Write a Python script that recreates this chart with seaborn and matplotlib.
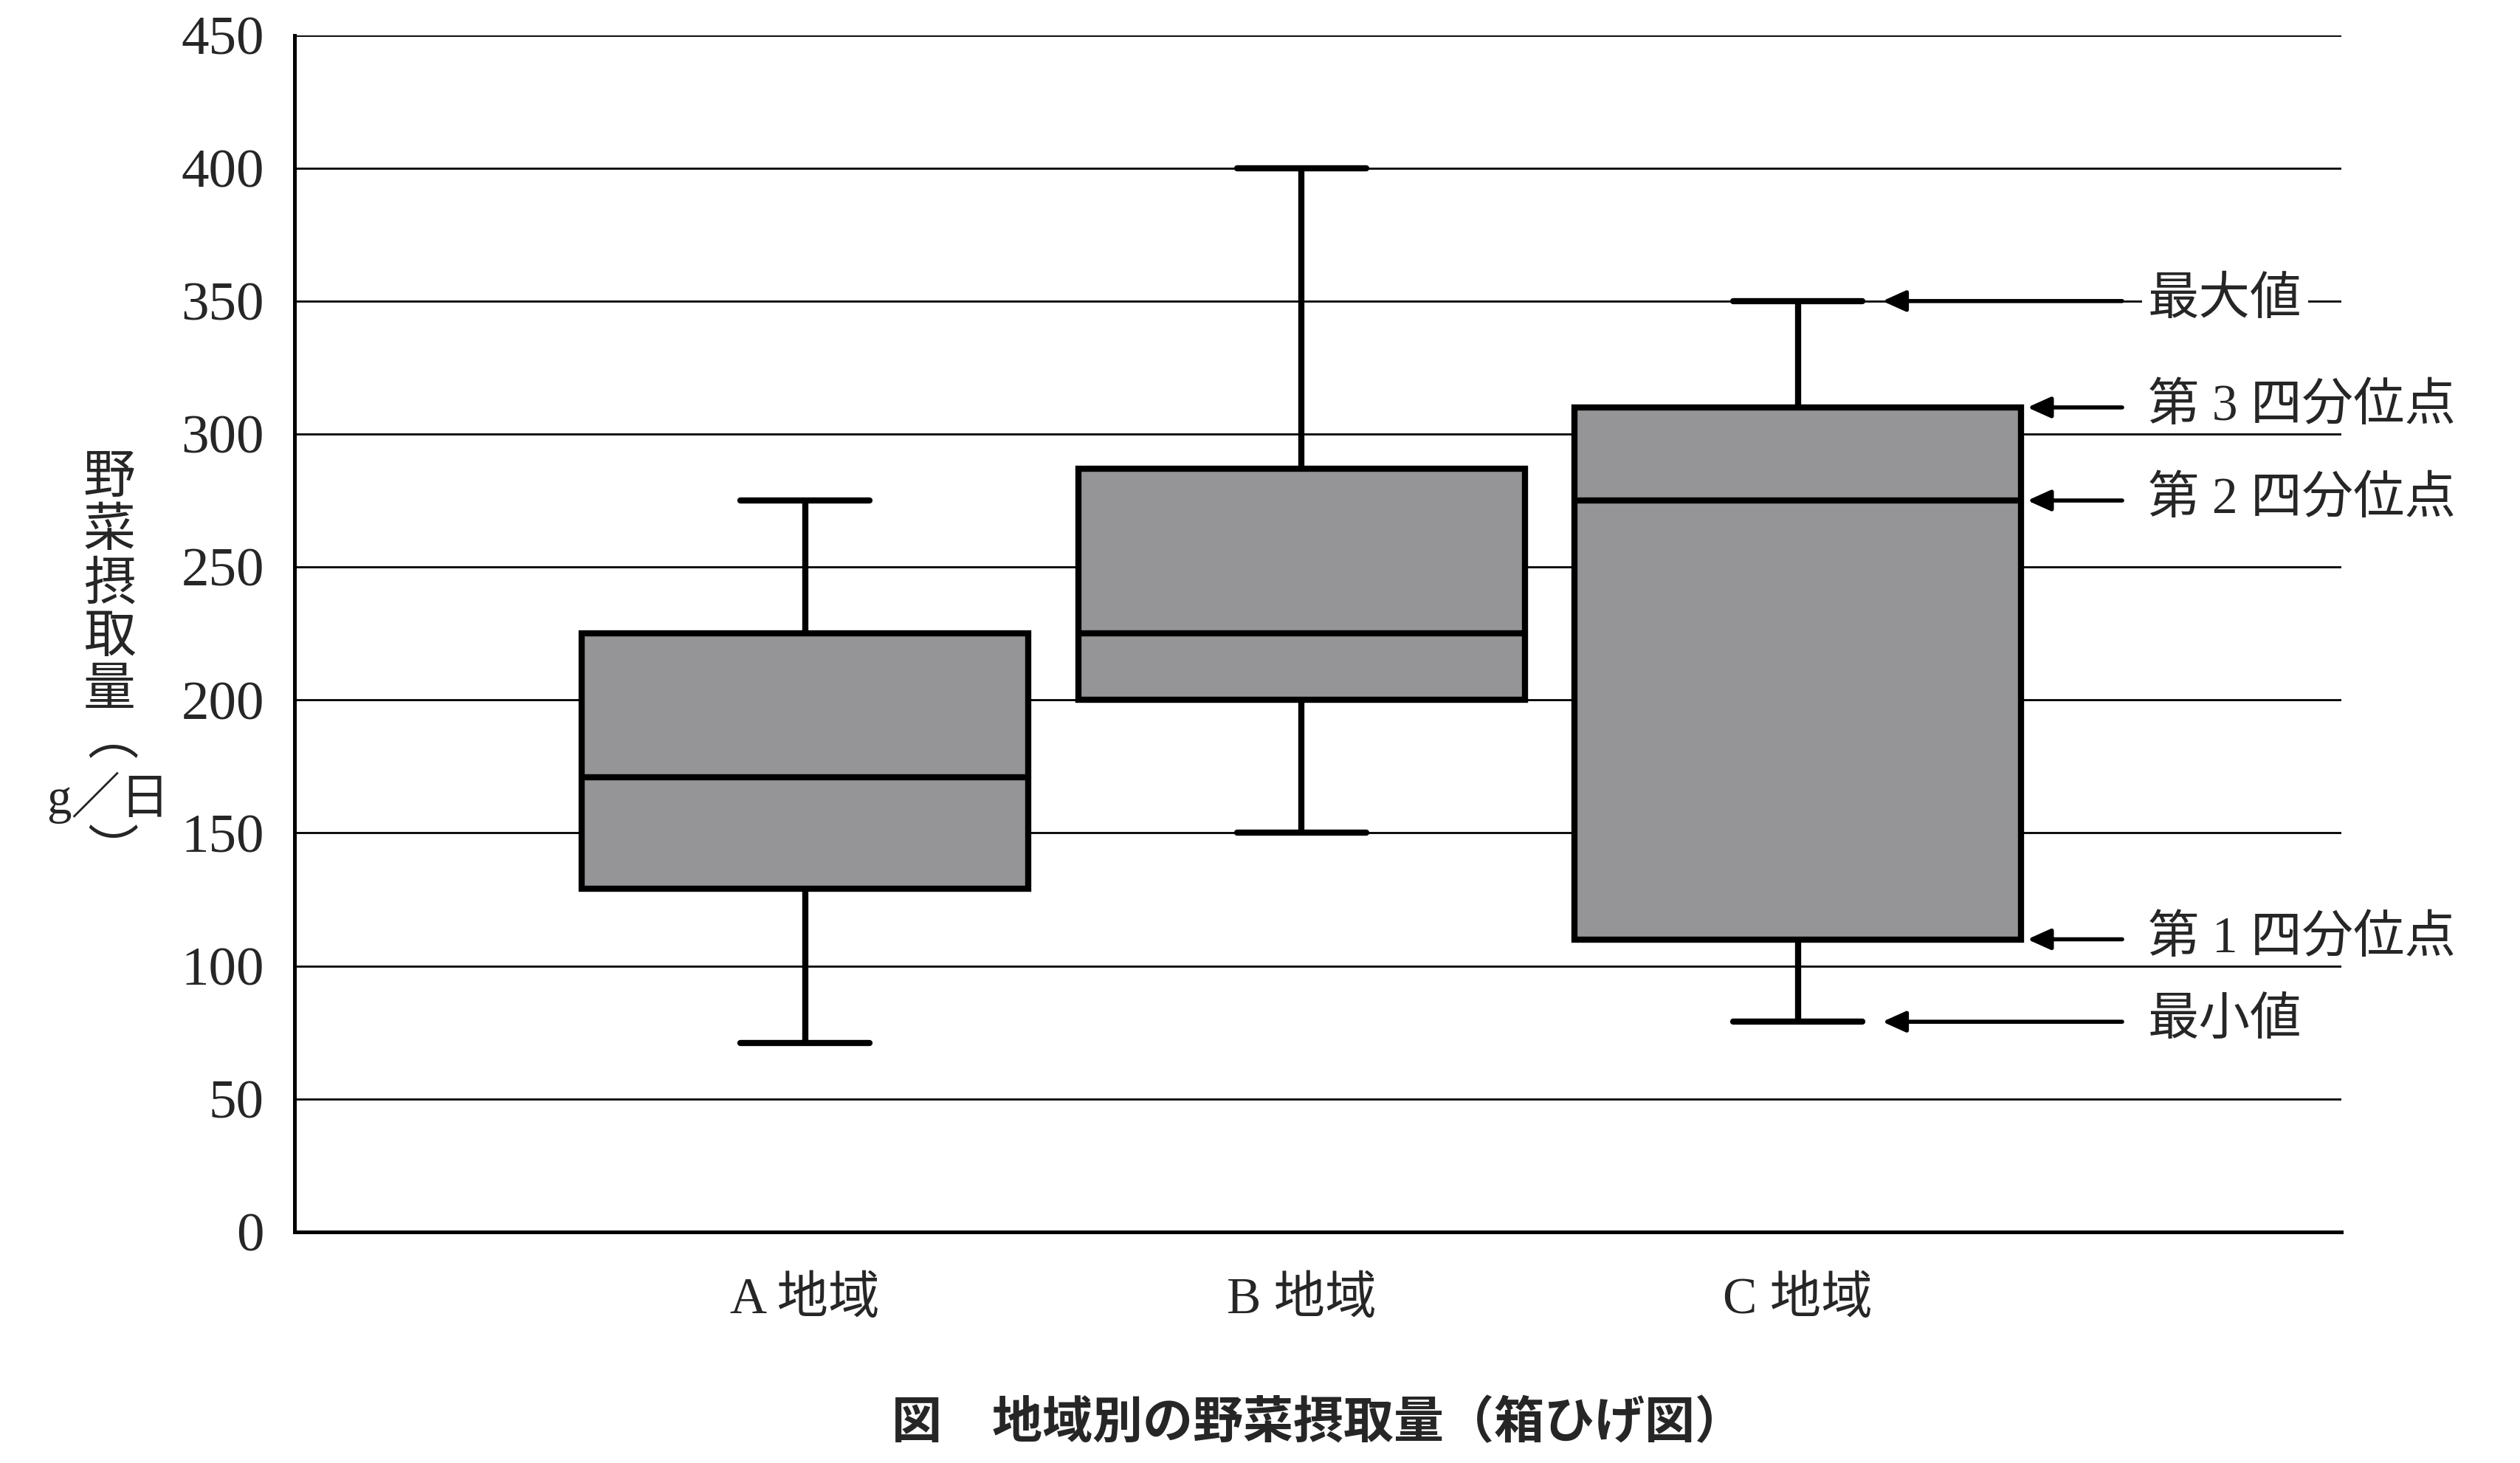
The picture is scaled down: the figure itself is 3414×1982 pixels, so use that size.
import matplotlib
matplotlib.use("Agg")
import matplotlib.pyplot as plt
import seaborn as sns
import pandas as pd

# ---- data ----
regions = ["A 地域", "B 地域", "C 地域"]
minimum = [71, 150, 79]
q1 = [129, 200, 110]
median = [171, 225, 275]
q3 = [225, 287, 310]
maximum = [275, 400, 350]
y_ticks = [0, 50, 100, 150, 200, 250, 300, 350, 400, 450]
ann_labels = ["最大値", "第 3 四分位点", "第 2 四分位点", "第 1 四分位点", "最小値"]
ylabel_chars = ["野", "菜", "摂", "取", "量"]
unit_text = "g／日"
title_text = "図　地域別の野菜摂取量（箱ひげ図）"

rows = []
for i, r in enumerate(regions):
    for v in (minimum[i], q1[i], median[i], q3[i], maximum[i]):
        rows.append({"region": r, "value": v})
df = pd.DataFrame(rows)

sns.set_style("white")
plt.rcParams["font.family"] = ["Liberation Serif", "Noto Sans CJK JP", "DejaVu Sans"]

SERIF_CJK = ["Liberation Serif", "Noto Sans CJK JP", "DejaVu Sans"]
CJK = ["Noto Sans CJK JP", "DejaVu Sans"]

fig = plt.figure(figsize=(17.07, 9.91), dpi=200)
ax = fig.add_axes([0.117, 0.158, 0.812, 0.818])

BOX_W = 0.9
CAP_W = 0.26
LW = 3.0

sns.boxplot(data=df, x="region", y="value", order=regions, whis=(0, 100),
            width=BOX_W, color="#959597", saturation=1, linecolor="black",
            linewidth=LW, capwidths=CAP_W, ax=ax)

ax.set_ylim(0, 450)
ax.set_xlim(-1.028, 3.094)
ax.set_yticks(y_ticks)
ax.set_yticklabels([str(t) for t in y_ticks], fontsize=27, family=SERIF_CJK)
ax.tick_params(axis="y", length=0, pad=15)
ax.tick_params(axis="x", length=0, pad=22)
for lab in ax.get_xticklabels():
    lab.set_fontsize(25)
    lab.set_family(SERIF_CJK)
ax.set_xlabel("")
ax.set_ylabel("")

ax.set_axisbelow(True)
ax.yaxis.grid(True, color="black", linewidth=1.0)
ax.xaxis.grid(False)
for s in ("top", "right"):
    ax.spines[s].set_visible(False)
for s in ("left", "bottom"):
    ax.spines[s].set_color("black")
    ax.spines[s].set_linewidth(1.8)

# ---- annotations on the C box ----
ci = 2
ann_vals = [maximum[ci], q3[ci], median[ci], q1[ci], minimum[ci]]
head_whisk = ci + CAP_W / 2 + 0.04
head_box = ci + BOX_W / 2 + 0.012
tail_x = 2.653
text_x = 2.705
for k, (lab, v) in enumerate(zip(ann_labels, ann_vals)):
    hx = head_whisk if k in (0, 4) else head_box
    ax.annotate("", xy=(hx, v), xytext=(tail_x, v),
                arrowprops=dict(arrowstyle="-|>,head_length=1.0,head_width=0.45",
                                mutation_scale=9.5, color="black", lw=2.0,
                                shrinkA=0, shrinkB=0),
                annotation_clip=False, zorder=5)
    kw = {}
    if k == 0:
        kw["bbox"] = dict(facecolor="white", edgecolor="none", pad=3)
    ax.text(text_x, v, lab, ha="left", va="center", fontsize=25,
            family=SERIF_CJK, zorder=6, **kw)

# ---- vertical y label ----
y0 = 0.6736
step = 0.0363
for j, ch in enumerate(ylabel_chars):
    fig.text(0.0434, y0 - j * step, ch, ha="center", va="center",
             fontsize=25.5, family=CJK)
fig.text(0.0447, 0.4950, "︵", ha="center", va="center", fontsize=25, family=CJK)
fig.text(0.0430, 0.4545, unit_text, ha="center", va="center", fontsize=24,
         family=SERIF_CJK)
fig.text(0.0447, 0.4172, "︶", ha="center", va="center", fontsize=25, family=CJK)

# ---- caption ----
fig.text(0.523, 0.027, title_text, ha="center", va="center", fontsize=24.5,
         fontweight="bold", family=CJK)

fig.savefig("out.png", dpi=200, facecolor="white")
